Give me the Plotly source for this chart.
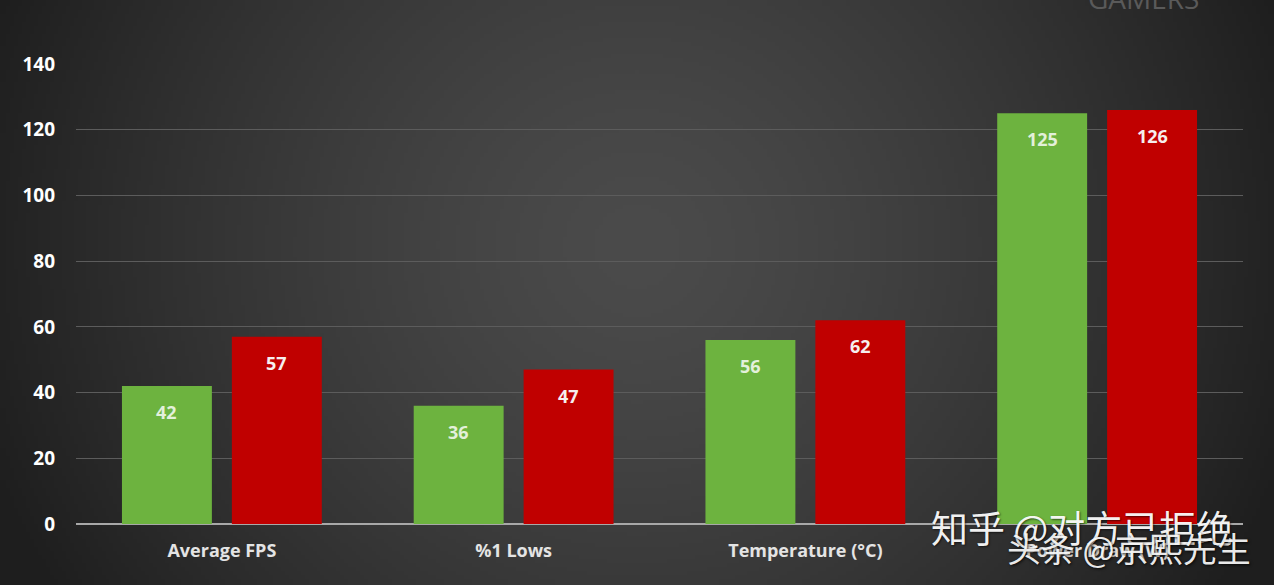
import base64, struct, zlib
import numpy as np
import plotly.graph_objects as go

categories = ["Average FPS", "%1 Lows", "Temperature (°C)", "Power Draw (W)"]
series_a = [42, 36, 56, 125]
series_b = [57, 47, 62, 126]
y_ticks = [0, 20, 40, 60, 80, 100, 120, 140]


def make_bg(w=320, h=147):
    xs = np.linspace(-1, 1, w)
    ys = (np.linspace(0, 1, h) - 0.42) / 0.58
    X, Y = np.meshgrid(xs, ys)
    d = np.sqrt(X ** 2 + (0.55 * Y) ** 2)
    d = np.clip(d, 0, 1.2)
    v = 75 - 40 * d ** 1.4
    v = np.clip(v, 30, 80).astype(np.uint8)
    arr = np.stack([v, v, v], axis=-1)
    raw = b"".join(b"\x00" + arr[i].tobytes() for i in range(h))

    def chunk(t, d_):
        return struct.pack(">I", len(d_)) + t + d_ + struct.pack(">I", zlib.crc32(t + d_) & 0xFFFFFFFF)

    png = (b"\x89PNG\r\n\x1a\n"
           + chunk(b"IHDR", struct.pack(">IIBBBBB", w, h, 8, 2, 0, 0, 0))
           + chunk(b"IDAT", zlib.compress(raw, 9))
           + chunk(b"IEND", b""))
    return "data:image/png;base64," + base64.b64encode(png).decode()


FONT = "'Open Sans', sans-serif"
W, H = 1274, 585
ML, MR, MT, MB = 76, 31, 64, 61
PW, PH = W - ML - MR, H - MT - MB

fig = go.Figure()
fig.add_trace(go.Bar(x=categories, y=series_a, name="A",
                     marker=dict(color="#6db33f", line=dict(width=0))))
fig.add_trace(go.Bar(x=categories, y=series_b, name="B",
                     marker=dict(color="#c00000", line=dict(width=0))))

# value labels placed near the top of each bar (via data coordinates)
slot_px = PW / len(categories) * (1 - 0.2466) / 2
ann = []
for cat, va, vb in zip(categories, series_a, series_b):
    ann.append(dict(x=cat, y=va, xref="x", yref="y", text=str(va), showarrow=False,
                    xshift=-slot_px / 2, yshift=-26,
                    font=dict(family=FONT, size=18, color="#e3f0da", weight="bold")))
    ann.append(dict(x=cat, y=vb, xref="x", yref="y", text=str(vb), showarrow=False,
                    xshift=slot_px / 2, yshift=-26,
                    font=dict(family=FONT, size=18, color="#f6eeee", weight="bold")))

ann += [
    dict(text="GAMERS", xref="paper", yref="paper", x=0.915, y=1 + (MT + 2) / PH,
         xanchor="center", yanchor="middle", showarrow=False,
         font=dict(family=FONT, size=28, color="#5a5a5a")),
    dict(text="知乎 @对方已拒绝", xref="paper", yref="paper", x=1 - 8 / PW, y=-3 / PH,
         xanchor="right", yanchor="middle", showarrow=False,
         font=dict(family="Noto Sans CJK SC", size=37, color="rgba(255,255,255,0.95)",
                   shadow="1px 1px 2px rgba(0,0,0,0.6)")),
    dict(text="头条 @京熙先生", xref="paper", yref="paper", x=1 + 10 / PW, y=-23 / PH,
         xanchor="right", yanchor="middle", showarrow=False,
         font=dict(family="Noto Sans CJK SC", size=34, color="rgba(255,255,255,0.92)",
                   shadow="1px 1px 3px rgba(0,0,0,0.9)")),
]

fig.update_layout(
    width=W, height=H,
    margin=dict(l=ML, r=MR, t=MT, b=MB),
    barmode="group", bargap=0.2466, bargroupgap=0.1818,
    paper_bgcolor="#333333", plot_bgcolor="rgba(0,0,0,0)",
    showlegend=False,
    images=[dict(source=make_bg(), xref="paper", yref="paper", x=-ML / PW, y=1 + MT / PH,
                 sizex=W / PW, sizey=H / PH, sizing="stretch", layer="below",
                 xanchor="left", yanchor="top")],
    xaxis=dict(
        tickfont=dict(family=FONT, size=18, color="#e4e4e4", weight="bold"),
        showgrid=False, ticks="", ticklabelstandoff=14,
        showline=False, zeroline=False,
    ),
    yaxis=dict(
        range=[0, 140], tickvals=y_ticks, ticktext=[str(v) for v in y_ticks],
        tickfont=dict(family=FONT, size=19, color="#ffffff", weight="bold"),
        showgrid=True, gridcolor="#5c5c5c", gridwidth=1,
        zeroline=True, zerolinecolor="#a8a8a8", zerolinewidth=2,
        ticks="", ticklabelstandoff=20,
    ),
    annotations=ann,
)

fig.write_html("out.html")
